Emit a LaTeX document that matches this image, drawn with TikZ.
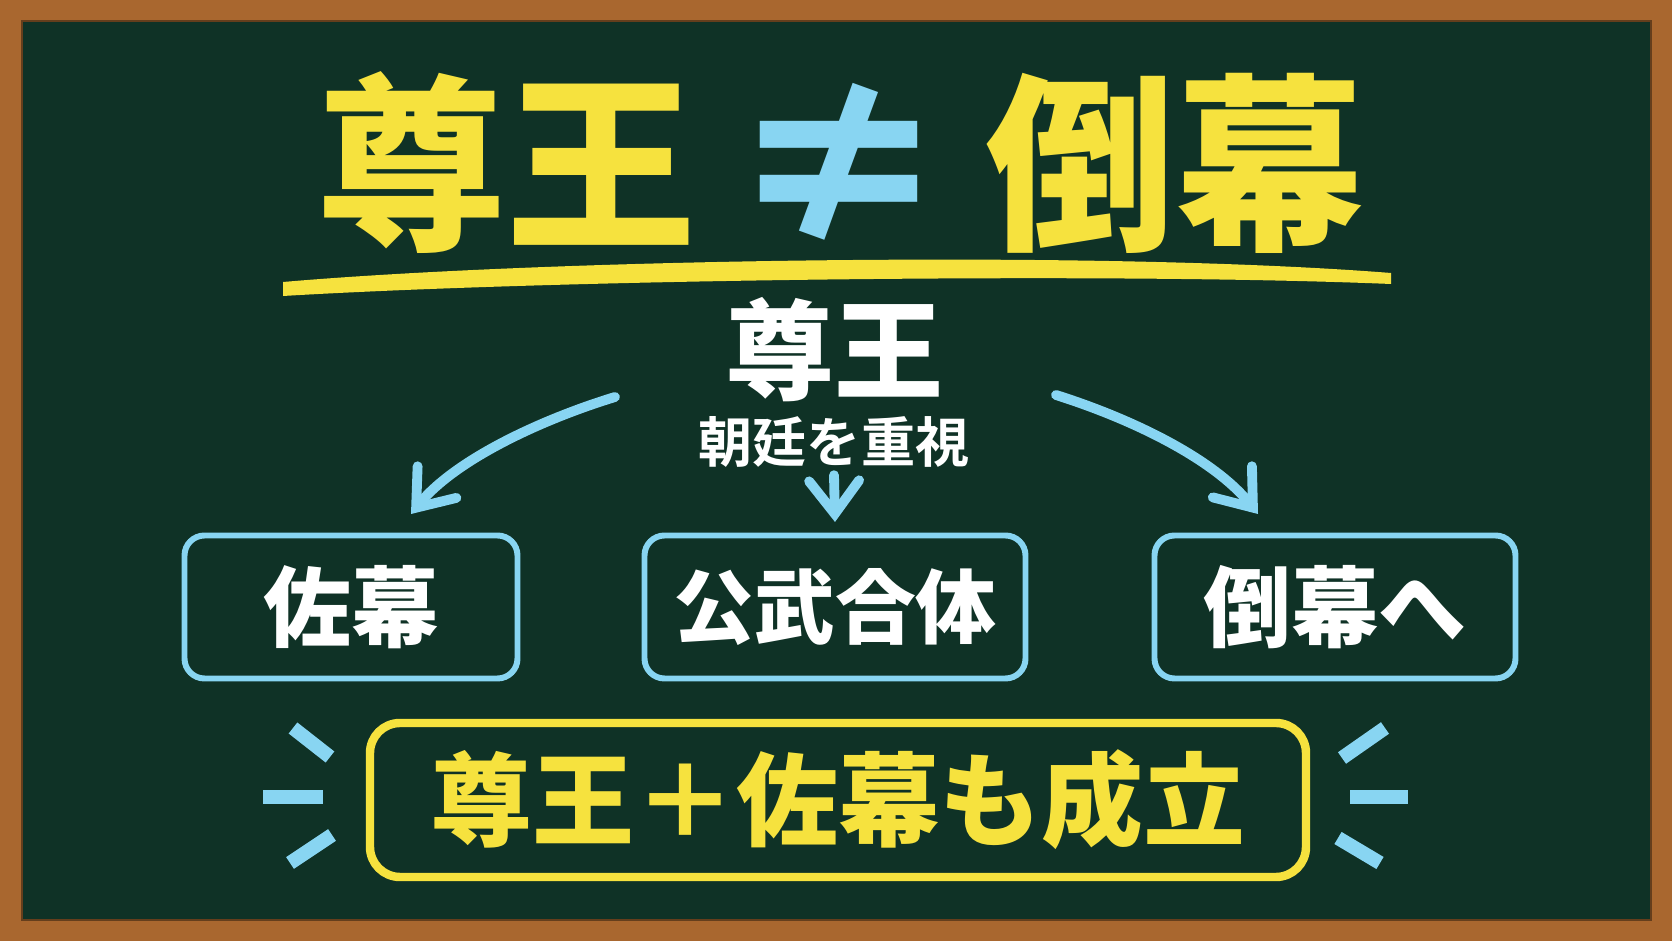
\documentclass[tikz,border=0pt]{standalone}
\usepackage{fontspec}
\usepackage{tikz}
\usetikzlibrary{arrows.meta}
\newfontfamily\jpfont{Noto Sans CJK JP}[BoldFont={Noto Sans CJK JP Bold}]
\newfontfamily\jpblack{Noto Sans CJK JP Black}
\definecolor{boardgrn}{HTML}{0F3226}
\definecolor{framebrn}{HTML}{A9672F}
\definecolor{chalkyel}{HTML}{F6E23E}
\definecolor{chalkblu}{HTML}{88D5F2}

\begin{document}
\begin{tikzpicture}[
        x=0.1mm, y=-0.1mm,
        jp/.style={font=\jpfont\bfseries, inner sep=0pt},
        bluebox/.style={jp, draw=chalkblu, line width=1.7pt, rounded corners=2mm,
            minimum height=14.3mm, text=white},
        arr/.style={chalkblu, line width=2.8pt, line cap=round,
            -{Straight Barb[length=3.3mm,width=5mm,line cap=round]}},
        dashmark/.style={chalkblu, line width=4pt}
    ]
        \useasboundingbox (0,0) rectangle (1672,941);
        % board and frame
        \fill [framebrn] (0,0) rectangle (1672,941);
        \fill [boardgrn] (22,21) rectangle (1651,920);
        \draw [framebrn!60!black, line width=0.8pt] (22,21) rectangle (1651,920);

        % title
        \node [jp, text=chalkyel, font=\jpblack\fontsize{54}{60}\selectfont] (title1) at (506,163) {尊王};
        \node [jp, text=chalkblu, font=\jpblack\fontsize{64}{70}\selectfont] (neq) at (839,165) {≠};
        \node [jp, text=chalkyel, font=\jpblack\fontsize{54}{60}\selectfont] (title2) at (1175,163) {倒幕};
        \fill [chalkyel] (283,282) .. controls (550,259) and (1100,250) .. (1391,273)
            -- (1391,284) .. controls (1100,272) and (550,280) .. (283,296) -- cycle;

        % sonno
        \node [jp, text=white, font=\jpblack\fontsize{31}{36}\selectfont] (sonno) at (834,350) {尊王};
        \node [jp, text=white, font=\jpfont\bfseries\fontsize{15.4}{18}\selectfont] (chotei) at (834,442) {朝廷を重視};

        % three boxes
        \node [bluebox, minimum width=33.3mm, font=\jpblack\fontsize{25}{30}\selectfont] (sabaku) at (351,607) {佐幕};
        \node [bluebox, minimum width=38.1mm, font=\jpblack\fontsize{23}{28}\selectfont] (kobu) at (835,607) {公武合体};
        \node [bluebox, minimum width=36.1mm, font=\jpblack\fontsize{25}{30}\selectfont] (tobaku) at (1335,607) {倒幕へ};

        \coordinate (ls) at (615,397);
        \coordinate (le) at (411,514);
        \coordinate (rs) at (1056,395);
        \coordinate (re) at (1258,514);
        \draw [arr] (ls) .. controls (540,420) and (455,460) .. (le);
        \draw [arr] (rs) .. controls (1135,420) and (1215,460) .. (re);
        \draw [arr] ([yshift=-2pt]chotei.south) -- ([yshift=3pt]kobu.north);

        % conclusion
        \node [jp, draw=chalkyel, line width=2.4pt, rounded corners=3mm,
            minimum width=93.6mm, minimum height=15.4mm, text=chalkyel,
            font=\jpblack\fontsize{29}{34}\selectfont] (seiritsu) at (838,800) {尊王＋佐幕も成立};
        \foreach \xa/\ya/\xb/\yb in {293/728/330/757, 263/797/323/797, 290/863/332/835,
            1342/758/1385/728, 1350/797/1408/797, 1338/838/1380/863} {
            \draw [dashmark] (\xa,\ya) -- (\xb,\yb);
        }
    \end{tikzpicture}
\end{document}
